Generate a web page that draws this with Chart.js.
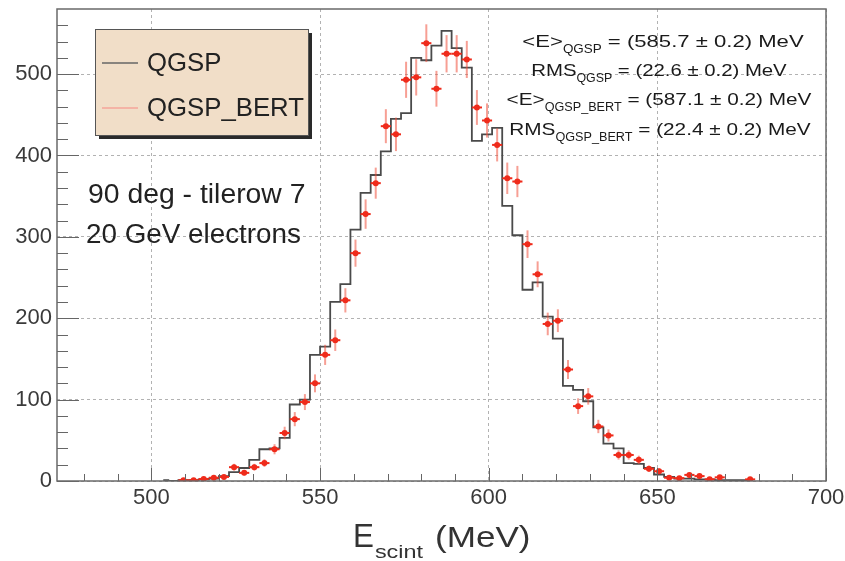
<!DOCTYPE html>
<html>
<head>
<meta charset="utf-8">
<script src="https://cdn.jsdelivr.net/npm/chart.js@4.4.1/dist/chart.umd.min.js"></script>
<style>
  html, body { margin: 0; padding: 0; background: #fff; }
</style>
</head>
<body>
<canvas id="escintChart" width="845" height="561"></canvas>
<script>
// bin centres (MeV), 3 MeV bins
const binCenters = [503.5, 506.5, 509.5, 512.5, 515.5, 518.5, 521.5, 524.5, 527.5, 530.5,
  533.5, 536.5, 539.5, 542.5, 545.5, 548.5, 551.5, 554.5, 557.5, 560.5,
  563.5, 566.5, 569.5, 572.5, 575.5, 578.5, 581.5, 584.5, 587.5, 590.5,
  593.5, 596.5, 599.5, 602.5, 605.5, 608.5, 611.5, 614.5, 617.5, 620.5,
  623.5, 626.5, 629.5, 632.5, 635.5, 638.5, 641.5, 644.5, 647.5, 650.5,
  653.5, 656.5, 659.5, 662.5, 665.5, 668.5, 671.5, 674.5, 677.5];

// QGSP histogram (black steps)
const qgspCounts = [1, 0, 1, 1, 2, 3, 6, 11, 16, 26,
  39, 40, 53, 94, 100, 155, 165, 220, 242, 309,
  354, 376, 405, 445, 452, 520, 517, 535, 553, 532,
  508, 418, 426, 434, 338, 302, 235, 244, 202, 175,
  117, 112, 98, 66, 46, 40, 22, 21, 16, 8,
  5, 3, 3, 2, 2, 1, 1, 1, 1];

// QGSP_BERT points (red markers) and their errors
const bertCounts = [null, null, 1, 1, 2.5, 4, 5, 17, 10, 17,
  22, 39, 59, 76, 97, 120, 155, 173, 222, 280,
  328, 366, 436, 426, 493, 496, 538, 482, 525, 525,
  518, 459, 443, 413, 372, 368, 291, 254, 193, 197,
  137, 92, 104, 67, 56, 32, 32, 26, 15, 12,
  4, 3.5, 7.5, 6, 2, 4.5, null, null, 2];
const bertErrors = [null, null, 1, 1, 1.6, 2, 2.2, 4.1, 3.2, 4.1,
  4.7, 6.2, 7.7, 8.7, 9.8, 11, 12.4, 13.2, 14.9, 16.7,
  18.1, 19.1, 20.9, 20.6, 22.2, 22.3, 23.2, 22, 22.9, 22.9,
  22.8, 21.4, 21, 20.3, 19.3, 19.2, 17, 15.9, 13.9, 14,
  11.7, 9.6, 10.2, 8.2, 7.5, 5.7, 5.7, 5.1, 3.9, 3.5,
  2, 1.9, 2.7, 2.4, 1.4, 2.1, null, null, 1.4];
const halfBin = 1.5;

const xMajorTicks = [500, 550, 600, 650, 700];
const xMinorTicks = [480, 490, 510, 520, 530, 540, 560, 570, 580, 590, 610, 620, 630, 640, 660, 670, 680, 690];
const yMajorTicks = [0, 100, 200, 300, 400, 500];
const yMinorTicks = [20, 40, 60, 80, 120, 140, 160, 180, 220, 240, 260, 280, 320, 340, 360, 380,
  420, 440, 460, 480, 520, 540, 560];

const legendLabels = ['QGSP', 'QGSP_BERT'];
const runLabels = ['90 deg - tilerow 7', '20 GeV electrons'];
const statLines = [
  ['<E>', 'QGSP', ' = (585.7 \u00b1 0.2) MeV'],
  ['RMS', 'QGSP', ' = (22.6 \u00b1 0.2) MeV'],
  ['<E>', 'QGSP_BERT', ' = (587.1 \u00b1 0.2) MeV'],
  ['RMS', 'QGSP_BERT', ' = (22.4 \u00b1 0.2) MeV']
];

const FONT = '"Liberation Sans", Arial, Helvetica, sans-serif';
const RED = '#ef2b1b';
const HIST = '#4a4a4a';

const histPoints = binCenters.map((x, i) => ({ x: x, y: qgspCounts[i] }));
const bertPoints = binCenters
  .map((x, i) => ({ x: x, y: bertCounts[i], err: bertErrors[i] }))
  .filter(p => p.y !== null);

// draws text with a horizontal stretch, like the original render
function stretchText(ctx, str, x, y, size, sx) {
  ctx.save();
  ctx.font = size + 'px ' + FONT;
  ctx.translate(x, y);
  ctx.scale(sx, 1);
  ctx.fillText(str, 0, 0);
  const w = ctx.measureText(str).width * sx;
  ctx.restore();
  return w;
}
function textWidth(ctx, str, size, sx) {
  ctx.save();
  ctx.font = size + 'px ' + FONT;
  const w = ctx.measureText(str).width * sx;
  ctx.restore();
  return w;
}

// error bars, drawn after the histogram but under the markers
const errorBars = {
  id: 'errorBars',
  afterDatasetDraw(chart, args) {
    if (args.index !== 1) return;
    const { ctx, scales: { x, y } } = chart;
    ctx.save();
    bertPoints.forEach(p => {
      const px = x.getPixelForValue(p.x);
      const py = y.getPixelForValue(p.y);
      ctx.strokeStyle = 'rgba(240,80,60,0.55)';
      ctx.lineWidth = 2;
      ctx.beginPath();
      ctx.moveTo(px, y.getPixelForValue(p.y + p.err));
      ctx.lineTo(px, Math.min(y.getPixelForValue(Math.max(p.y - p.err, 0)), chart.chartArea.bottom));
      ctx.stroke();
      ctx.strokeStyle = RED;
      ctx.lineWidth = 2;
      ctx.beginPath();
      ctx.moveTo(x.getPixelForValue(p.x - halfBin), py);
      ctx.lineTo(x.getPixelForValue(p.x + halfBin), py);
      ctx.stroke();
    });
    ctx.restore();
  }
};

// frame, inward ticks, legend box and texts
const decorations = {
  id: 'decorations',
  afterDraw(chart) {
    const { ctx, chartArea: a, scales: { x, y } } = chart;
    ctx.save();

    // inward ticks
    ctx.strokeStyle = '#666';
    ctx.lineWidth = 1;
    ctx.beginPath();
    xMajorTicks.forEach(v => { const px = Math.round(x.getPixelForValue(v)) + 0.5; ctx.moveTo(px, a.bottom); ctx.lineTo(px, a.bottom - 13); });
    xMinorTicks.forEach(v => { const px = Math.round(x.getPixelForValue(v)) + 0.5; ctx.moveTo(px, a.bottom); ctx.lineTo(px, a.bottom - 7); });
    yMajorTicks.forEach(v => { const py = Math.round(y.getPixelForValue(v)) + 0.5; ctx.moveTo(a.left, py); ctx.lineTo(a.left + 22, py); });
    yMinorTicks.forEach(v => { const py = Math.round(y.getPixelForValue(v)) + 0.5; ctx.moveTo(a.left, py); ctx.lineTo(a.left + 11, py); });
    ctx.stroke();

    // frame
    ctx.strokeStyle = '#6a6a6a';
    ctx.lineWidth = 1.5;
    ctx.strokeRect(a.left, a.top, a.right - a.left, a.bottom - a.top);

    // legend box with shadow
    const lx = 95, ly = 29, lw = 213, lh = 106;
    ctx.fillStyle = '#2a2a2a';
    ctx.fillRect(lx + 4, ly + 4, lw, lh);
    ctx.fillStyle = '#f1dec8';
    ctx.fillRect(lx, ly, lw, lh);
    ctx.strokeStyle = '#555';
    ctx.lineWidth = 1;
    ctx.strokeRect(lx + 0.5, ly + 0.5, lw, lh);

    ctx.lineWidth = 1.5;
    ctx.strokeStyle = '#666';
    ctx.beginPath(); ctx.moveTo(102, 63); ctx.lineTo(138, 63); ctx.stroke();
    ctx.strokeStyle = '#f4a49a';
    ctx.beginPath(); ctx.moveTo(102, 108); ctx.lineTo(138, 108); ctx.stroke();

    ctx.fillStyle = '#222';
    ctx.textBaseline = 'alphabetic';
    ctx.textAlign = 'left';
    stretchText(ctx, legendLabels[0], 147, 71, 25, 1.03);
    stretchText(ctx, legendLabels[1], 147, 116, 25, 1.03);

    // run description
    stretchText(ctx, runLabels[0], 88, 203, 27, 1.05);
    stretchText(ctx, runLabels[1], 86, 243, 27, 1.03);

    // statistics block, centred lines with subscripts
    ctx.fillStyle = '#1a1a1a';
    const baselines = [47, 76, 105, 135];
    const centres = [663, 659, 659, 660];
    const squeeze = [1.0, 0.92, 0.94, 0.94];
    statLines.forEach((parts, i) => {
      const sm = 1.3 * squeeze[i], ss = 1.12 * squeeze[i];
      const w = textWidth(ctx, parts[0], 17, sm) + textWidth(ctx, parts[1], 12, ss) + textWidth(ctx, parts[2], 17, sm);
      let cx = centres[i] - w / 2;
      cx += stretchText(ctx, parts[0], cx, baselines[i], 17, sm);
      cx += stretchText(ctx, parts[1], cx, baselines[i] + 6, 12, ss);
      stretchText(ctx, parts[2], cx, baselines[i], 17, sm);
    });

    // x axis title: E_scint (MeV)
    ctx.fillStyle = '#333';
    let tx = 353;
    tx += stretchText(ctx, 'E', tx, 547, 33, 0.95);
    stretchText(ctx, 'scint', tx + 1, 558, 18, 1.3);
    stretchText(ctx, '(MeV)', 435, 547, 30, 1.17);

    ctx.restore();
  }
};

new Chart(document.getElementById('escintChart'), {
  type: 'line',
  data: {
    datasets: [
      {
        label: legendLabels[1],
        data: bertPoints,
        showLine: false,
        pointRadius: 3,
        pointBackgroundColor: RED,
        pointBorderWidth: 0,
        order: 0
      },
      {
        label: legendLabels[0],
        data: histPoints,
        showLine: true,
        stepped: 'middle',
        borderColor: HIST,
        borderWidth: 1.8,
        pointRadius: 0,
        fill: false,
        order: 1
      }
    ]
  },
  options: {
    responsive: false,
    animation: false,
    devicePixelRatio: 1,
    layout: { padding: { top: 9, right: 19, left: 0, bottom: 0 } },
    plugins: { legend: { display: false }, tooltip: { enabled: false } },
    scales: {
      x: {
        type: 'linear',
        min: 472,
        max: 700,
        afterBuildTicks: s => { s.ticks = xMajorTicks.map(v => ({ value: v })); },
        afterFit: s => { s.height = 80; s.paddingLeft = 0; s.paddingRight = 0; },
        ticks: { font: { family: FONT, size: 22 }, color: '#3a3a3a', padding: 4, maxRotation: 0, autoSkip: false },
        grid: { color: 'rgba(0,0,0,0.3)', drawTicks: false, lineWidth: 1 },
        border: { display: false, dash: [3, 3] }
      },
      y: {
        min: 0,
        max: 580,
        afterBuildTicks: s => { s.ticks = yMajorTicks.map(v => ({ value: v })); },
        afterFit: s => { s.width = 57; s.paddingTop = 0; s.paddingBottom = 0; },
        ticks: { font: { family: FONT, size: 22 }, color: '#3a3a3a', padding: 5, autoSkip: false },
        grid: { color: 'rgba(0,0,0,0.3)', drawTicks: false, lineWidth: 1 },
        border: { display: false, dash: [3, 3] }
      }
    }
  },
  plugins: [errorBars, decorations]
});
</script>
</body>
</html>
